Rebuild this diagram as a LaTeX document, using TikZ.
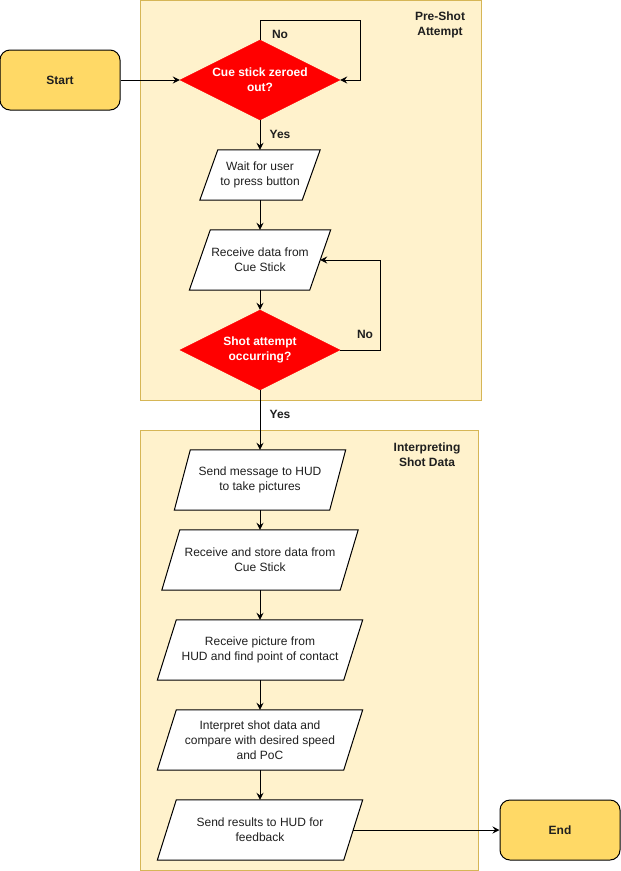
\documentclass[tikz,border=0pt]{standalone}
\usepackage{fontspec}
\setmainfont{Liberation Sans}
\usetikzlibrary{shapes.geometric,arrows.meta,calc,backgrounds}

\definecolor{lanefill}{HTML}{FFF2CC}
\definecolor{lanedraw}{HTML}{D6B656}
\definecolor{termfill}{HTML}{FFD966}
\definecolor{decfill}{HTML}{FF0000}
\definecolor{txt}{HTML}{1F1F1F}

\tikzset{
  lane/.style={fill=lanefill, draw=lanedraw, line width=1pt},
  lanetitle/.style={font=\bfseries\fontsize{12}{15}\selectfont, align=center, text=txt},
  terminal/.style={rectangle, rounded corners=10pt, fill=termfill, draw=black, line width=1pt,
    minimum width=120pt, minimum height=60pt, font=\bfseries\fontsize{12}{15}\selectfont, text=txt},
  decision/.style={diamond, aspect=2, fill=decfill, draw=decfill, minimum width=160pt,
    minimum height=80pt, inner sep=0pt, text=white, align=center,
    font=\bfseries\fontsize{12}{15}\selectfont},
  iotext/.style={rectangle, inner sep=0pt, align=center, text=txt,
    font=\fontsize{12}{15}\selectfont},
  iobox/.style={fill=white, draw=black, line width=1pt},
  flow/.style={draw=black, line width=1pt, -{Stealth[length=7pt,width=7pt,inset=2.5pt]}},
  edgelabel/.style={font=\bfseries\fontsize{12}{15}\selectfont, text=txt},
}

\begin{document}
\begin{tikzpicture}[x=1pt,y=-1pt]
\useasboundingbox (0,0) rectangle (621,871);

% process steps (text part; outlines are drawn behind them)
\node[iotext, minimum width=102pt, minimum height=50pt] (wait) at (260,175) {Wait for user\\to press button};
\node[iotext, minimum width=120pt, minimum height=60pt] (recv) at (260,260) {Receive data from\\Cue Stick};
\node[iotext, minimum width=155pt, minimum height=60pt] (msg) at (260,480) {Send message to HUD\\to take pictures};
\node[iotext, minimum width=178pt, minimum height=60pt] (store) at (260,560) {Receive and store data from\\Cue Stick};
\node[iotext, minimum width=186pt, minimum height=60pt] (pic) at (260,650) {Receive picture from\\HUD and find point of contact};
\node[iotext, minimum width=186pt, minimum height=60pt] (interp) at (260,740) {Interpret shot data and\\compare with desired speed\\and PoC};
\node[iotext, minimum width=186pt, minimum height=60pt] (send) at (260,830) {Send results to HUD for\\feedback};

% swimlanes and their titles
\begin{scope}[on background layer]
  \draw[lane] (140,0) rectangle (481,400);
  \draw[lane] (140,430) rectangle (478,870);
  \foreach \n/\s in {wait/18, recv/21, msg/16, store/18, pic/19, interp/19, send/19}
    \draw[iobox] ($(\n.north west)+(\s/2,0)$) -- ($(\n.north east)+(\s/2,0)$)
      -- ($(\n.south east)+(-\s/2,0)$) -- ($(\n.south west)+(-\s/2,0)$) -- cycle;
\end{scope}
\node[lanetitle] (lane1) at (440,25) {Pre-Shot\\Attempt};
\node[lanetitle] (lane2) at (427,455) {Interpreting\\Shot Data};

% terminals and decisions
\node[terminal] (start) at (60,80) {Start};
\node[terminal] (end) at (560,830) {End};
\node[decision] (zero) at (260,80) {Cue stick zeroed\\out?};
\node[decision] (shot) at (260,350) {Shot attempt\\occurring?};

\coordinate (zloopA) at (260,20);
\coordinate (zloopB) at (360,20);
\coordinate (sloop) at (380,350);

% connectors
\draw[flow] (start) -- (zero.west);
\draw[flow] (zero.north) -- (zloopA) -- (zloopB) |- (zero.east);
\draw[flow] (zero.south) -- (wait.north);
\draw[flow] (wait.south) -- (recv.north);
\draw[flow] (recv.south) -- (shot.north);
\draw[flow] (shot.east) -- (sloop) |- (recv.east);
\draw[flow] (shot.south) -- (msg.north);
\draw[flow] (msg.south) -- (store.north);
\draw[flow] (store.south) -- (pic.north);
\draw[flow] (pic.south) -- (interp.north);
\draw[flow] (interp.south) -- (send.north);
\draw[flow] (send.east) -- (end.west);

% branch labels
\node[edgelabel] (lno1) at (280,34) {No};
\node[edgelabel] (lyes1) at (280,134) {Yes};
\node[edgelabel] (lno2) at (365,334) {No};
\node[edgelabel] (lyes2) at (280,414) {Yes};
\end{tikzpicture}
\end{document}
